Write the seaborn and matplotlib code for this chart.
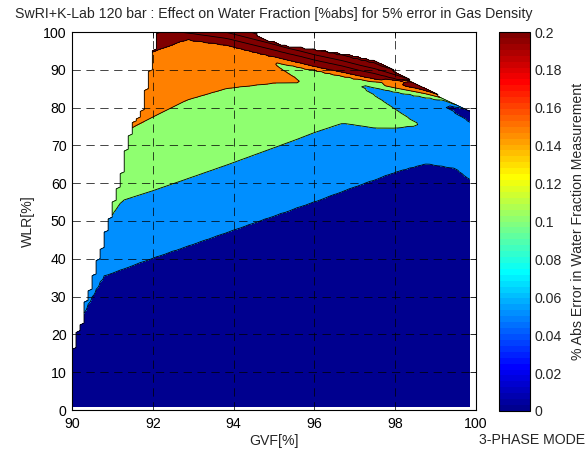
import numpy as np
import matplotlib
matplotlib.use("Agg")
import matplotlib.pyplot as plt
import seaborn as sns
from matplotlib.colors import ListedColormap, Normalize
from matplotlib.cm import ScalarMappable

sns.set_style("white")
plt.rcParams['font.family'] = ['Liberation Sans', 'DejaVu Sans']
plt.rcParams['lines.scale_dashes'] = False

# ---------------- data ----------------
title = "SwRI+K-Lab 120 bar : Effect on Water Fraction [%abs] for 5% error in Gas Density"
cbar_label = "% Abs Error in Water Fraction Measurement"
mode_label = "3-PHASE MODE"

# GVF columns at which the contour crossings (WLR, %) were read
gvf_cols = [90.0, 90.4, 90.77, 91.0, 91.24, 91.56, 92.0, 92.84, 93.83, 94.98, 95.31,
            95.64, 96.0, 96.7, 97.13, 97.5, 98.0, 98.57, 98.78, 99.23, 99.5, 99.85]

# WLR where the error crosses 0.05 (a: main, b/c: folded wedge near the top right)
a05 = [19, 28, 35.4, 36.3, 37.2, 38.5, 40.2, 43.3, 47.0, 51.3, 52.5,
       53.8, 55.1, 57.9, 59.6, 61.0, 63.0, 64.7, 65.2, 64.4, 63.9, 61.0]
b05 = [80.7, 80.7, 80.7, 80.7, 80.7, 80.7, 80.7, 80.7, 80.7, 80.7, 80.7,
       80.7, 80.7, 80.7, 80.7, 80.7, 80.7, 80.7, 80.7, 80.7, 78.7, 76.3]
c05 = [80.7, 80.7, 80.7, 80.7, 80.7, 80.7, 80.7, 80.7, 80.7, 80.7, 80.7,
       80.7, 80.7, 80.7, 80.7, 80.7, 80.7, 80.7, 80.7, 80.7, 80.2, 79.5]
# 0.10 crossings
a10 = [40, 44.5, 49, 51.6, 55.4, 56.5, 58, 61.1, 64.8, 69.3, 70.6,
       71.9, 73.4, 75.9, 75.2, 74.6, 74.6, 75.4, 75.4, 75.4, 75.4, 75.4]
b10 = [86, 86, 86, 86, 86, 86, 86, 86, 86, 86, 86,
       86, 86, 86, 86, 83.3, 79.6, 75.4, 75.4, 75.4, 75.4, 75.4]
c10 = [86, 86, 86, 86, 86, 86, 86, 86, 86, 86, 86,
       86, 86, 86, 86, 85.2, 84.2, 83.1, 82.8, 81.9, 80.7, 80.0]
# 0.15 crossings
a15 = [66, 68, 70, 71.5, 73, 75.1, 77.5, 82.0, 85.1, 86.5, 86.6,
       86.9, 86.9, 86.9, 86.9, 86.9, 86.9, 86.9, 86.9, 86.9, 86.9, 86.9]
b15 = [91.9, 91.9, 91.9, 91.9, 91.9, 91.9, 91.9, 91.9, 91.9, 91.9, 89.4,
       86.9, 86.9, 86.9, 86.9, 86.9, 86.9, 86.9, 86.9, 86.9, 86.9, 86.9]
c15 = [91.9, 91.9, 91.9, 91.9, 91.9, 91.9, 91.9, 91.9, 91.9, 91.9, 91.3,
       90.7, 90.0, 88.4, 87.5, 86.6, 85.4, 84.1, 83.6, 82.3, 81.4, 80.4]
# higher levels
c20 = [90, 91, 92, 92.5, 93, 93.8, 94.8, 98.1, 96.6, 93.5, 92.6,
       91.8, 90.8, 89.3, 88.3, 87.5, 86.2, 85.0, 84.4, 82.8, 81.8, 80.8]
c25 = [95, 95.5, 96, 96.3, 96.6, 97, 101, 99.8, 98.3, 95.3, 94.4,
       93.6, 92.6, 91.0, 89.8, 89.0, 87.5, 86.0, 85.3, 83.3, 82.2, 81.2]
c30 = [99, 99.3, 99.6, 99.8, 100, 100.2, 101.5, 101, 99.9, 96.8, 95.8,
       95.0, 94.0, 92.4, 91.2, 90.3, 88.7, 86.9, 86.1, 83.8, 82.6, 81.6]
c35 = [103, 103, 103, 103, 103, 103, 103, 103, 101.5, 98.0, 97.0,
       96.2, 95.2, 93.7, 92.5, 91.5, 89.6, 87.6, 86.8, 84.3, 83.0, 82.0]

# operating envelope (upper WLR limit of valid data)
env_gvf = [90.0, 90.05, 90.2, 90.3, 90.4, 90.5, 90.6, 90.7, 90.77, 90.9, 90.98, 91.1,
           91.2, 91.27, 91.4, 91.48, 91.6, 91.7, 91.8, 91.9, 91.98, 92.1, 94.6, 94.7,
           95.0, 95.3, 96.0, 97.0, 97.5, 98.0, 98.45, 98.8, 99.0, 99.3, 99.5, 99.8, 99.85]
env_wlr = [16, 20, 23, 29, 32, 36, 39.7, 43, 46.6, 51, 55, 59,
           63, 68, 73, 76, 77.5, 79.5, 85, 90, 94.7, 100, 100, 98.3,
           97.5, 96.6, 95.6, 93.8, 92.6, 89.8, 87, 85, 84, 82, 81, 79.4, 79]

levels_fill = [-1.0, 0.05, 0.10, 0.15, 0.20, 0.25, 0.30, 0.35, 1.0]
levels_line = [0.05, 0.10, 0.15, 0.20, 0.25, 0.30, 0.35]
cbar_ticks = [0, 0.02, 0.04, 0.06, 0.08, 0.10, 0.12, 0.14, 0.16, 0.18, 0.20]
cbar_ticklabels = ["0", "0.02", "0.04", "0.06", "0.08", "0.1", "0.12", "0.14", "0.16", "0.18", "0.2"]
x_ticks = [90, 92, 94, 96, 98, 100]
y_ticks = [0, 10, 20, 30, 40, 50, 60, 70, 80, 90, 100]

FS = 10.2


# ---------------- MATLAB jet(64) colormap ----------------
def matlab_jet(m=64):
    n = int(np.ceil(m / 4))
    u = np.concatenate([np.arange(1, n + 1) / n, np.ones(n - 1), np.arange(n, 0, -1) / n])
    g = int(np.ceil(n / 2)) - (1 if m % 4 == 1 else 0) + np.arange(1, len(u) + 1)
    r = g + n
    b = g - n
    J = np.zeros((m, 3))
    for arr, col in ((r, 0), (g, 1), (b, 2)):
        ok = (arr >= 1) & (arr <= m)
        J[arr[ok] - 1, col] = u[ok]
    return J


J = matlab_jet(64)
cmap = ListedColormap(J)
cmin, cmax = 0.0, 0.2


def band_color(v):
    idx = int(np.floor((v - cmin) / (cmax - cmin) * 64))
    return J[min(max(idx, 0), 63)]


fill_colors = [band_color(max(v, 0.0)) for v in levels_fill[:-1]]

# ---------------- build the error field from the crossings ----------------
G_f = np.linspace(90.0, 99.85, 100)
W_f = np.arange(1.0, 100.001, 0.5)
Z = np.empty((len(W_f), len(G_f)))
fold = [(0.05, a05, b05, c05), (0.10, a10, b10, c10), (0.15, a15, b15, c15)]
single = [(0.20, c20), (0.25, c25), (0.30, c30), (0.35, c35)]
eps = 1e-9
for j, g in enumerate(G_f):
    pos = [-50.0]
    val = [-0.05]
    for L, A, B, C in fold:
        a = np.interp(g, gvf_cols, A)
        b = np.interp(g, gvf_cols, B)
        c = np.interp(g, gvf_cols, C)
        if b - a > eps and c - b > eps:
            pos += [a, 0.5 * (a + b), b, 0.5 * (b + c), c]
            val += [L, L + 0.02, L, L - 0.02, L]
        elif c - b > eps:
            pos.append(c); val.append(L)
        else:
            pos.append(a); val.append(L)
    for L, C in single:
        pos.append(np.interp(g, gvf_cols, C)); val.append(L)
    pos.append(250.0); val.append(0.6)
    pos = np.array(pos); val = np.array(val)
    order = np.argsort(pos, kind="stable")
    Z[:, j] = np.interp(W_f, pos[order], val[order])

env = np.interp(G_f, env_gvf, env_wlr)
mask = W_f[:, None] > env[None, :] + 1e-6
Zm = np.ma.array(Z, mask=mask)
inside = (~mask).astype(float)

# ---------------- figure ----------------
fig = plt.figure(figsize=(5.86, 4.49), dpi=100)
ax = fig.add_axes([72 / 586, 39 / 449, 404 / 586, 378 / 449])
ax.set_facecolor("white")

ax.contourf(G_f, W_f, Zm, levels=levels_fill, colors=fill_colors)
ax.contour(G_f, W_f, Zm, levels=levels_line, colors="k", linewidths=0.6)
ax.contour(G_f, W_f, inside, levels=[0.99], colors="k", linewidths=0.6)

ax.set_xlim(90, 100)
ax.set_ylim(0, 100)
ax.set_xticks(x_ticks)
ax.set_yticks(y_ticks)
ax.set_axisbelow(False)
ax.grid(True, color="k", linestyle=(0, (6, 4)), linewidth=0.6, alpha=0.85)
ax.tick_params(direction="in", length=4, width=0.6, top=True, right=True,
               labelsize=FS, colors="k")
ax.tick_params(axis="x", pad=5)
ax.tick_params(axis="y", pad=4)
for s in ax.spines.values():
    s.set_color("k"); s.set_linewidth(0.8); s.set_visible(True)
ax.set_xlabel("GVF[%]", fontsize=FS, labelpad=2)
ax.set_ylabel("WLR[%]", fontsize=FS, labelpad=6)
ax.set_title(title, fontsize=FS, pad=10)

cax = fig.add_axes([499 / 586, 38 / 449, 31 / 586, 379 / 449])
sm = ScalarMappable(norm=Normalize(cmin, cmax), cmap=cmap)
cb = fig.colorbar(sm, cax=cax)
cb.set_ticks(cbar_ticks)
cb.set_ticklabels(cbar_ticklabels)
cax.tick_params(direction="in", length=3, width=0.6, left=True, right=True,
                labelsize=FS, pad=3)
cb.outline.set_linewidth(0.8)
cb.outline.set_edgecolor("k")
cb.set_label(cbar_label, fontsize=FS, labelpad=7)
fig.text(532 / 586, 1 - 440 / 449, mode_label, fontsize=FS, ha="center", va="center")

fig.savefig("out.png", dpi=100)
